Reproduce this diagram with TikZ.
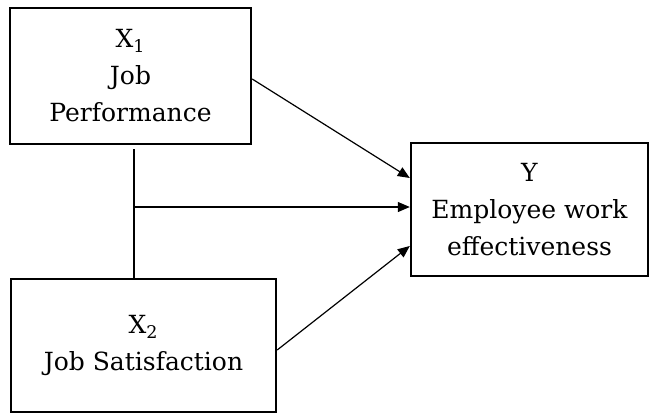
\documentclass[tikz,border=0pt]{standalone}
\usepackage{fontspec}
\setmainfont{DejaVu Serif}
\usetikzlibrary{arrows.meta}

\begin{document}
\begin{tikzpicture}[x=0.5pt,y=0.5pt,yscale=-1,xscale=1,
  varbox/.style={draw, line width=1.2pt, align=center, inner sep=0pt,
    font=\fontsize{12.5}{18.5}\selectfont},
  link/.style={line width=0.6pt},
  arr/.style={link, -{Triangle[length=6pt,width=5pt]}}]
\useasboundingbox (0,0) rectangle (650,414);

%Shape: Rectangle [X1]
\node [varbox, minimum width=120.5pt, minimum height=68pt] (perf) at (130.5,76) {X\textsubscript{1}\\Job\\Performance};
%Shape: Rectangle [X2]
\node [varbox, minimum width=132.5pt, minimum height=66.5pt] (sat) at (143.5,345.5) {X\textsubscript{2}\\Job Satisfaction};
%Shape: Rectangle [Y]
\node [varbox, minimum width=118.5pt, minimum height=66.5pt] (eff) at (529.5,209.5) {Y\\Employee work\\effectiveness};

%Joint of X1 and X2
\coordinate (jn) at (134,207);

%Straight Lines
\draw [link] ([yshift=2pt]perf.south -| jn) -- (sat.north -| jn) ;
\draw [arr] (jn) -- (jn -| eff.west) ;
\draw [arr] ([yshift=1.5pt]perf.east) -- ([yshift=-15.75pt]eff.west) ;
\draw [arr] ([yshift=2.25pt]sat.east) -- ([yshift=18.25pt]eff.west) ;

\end{tikzpicture}
\end{document}
